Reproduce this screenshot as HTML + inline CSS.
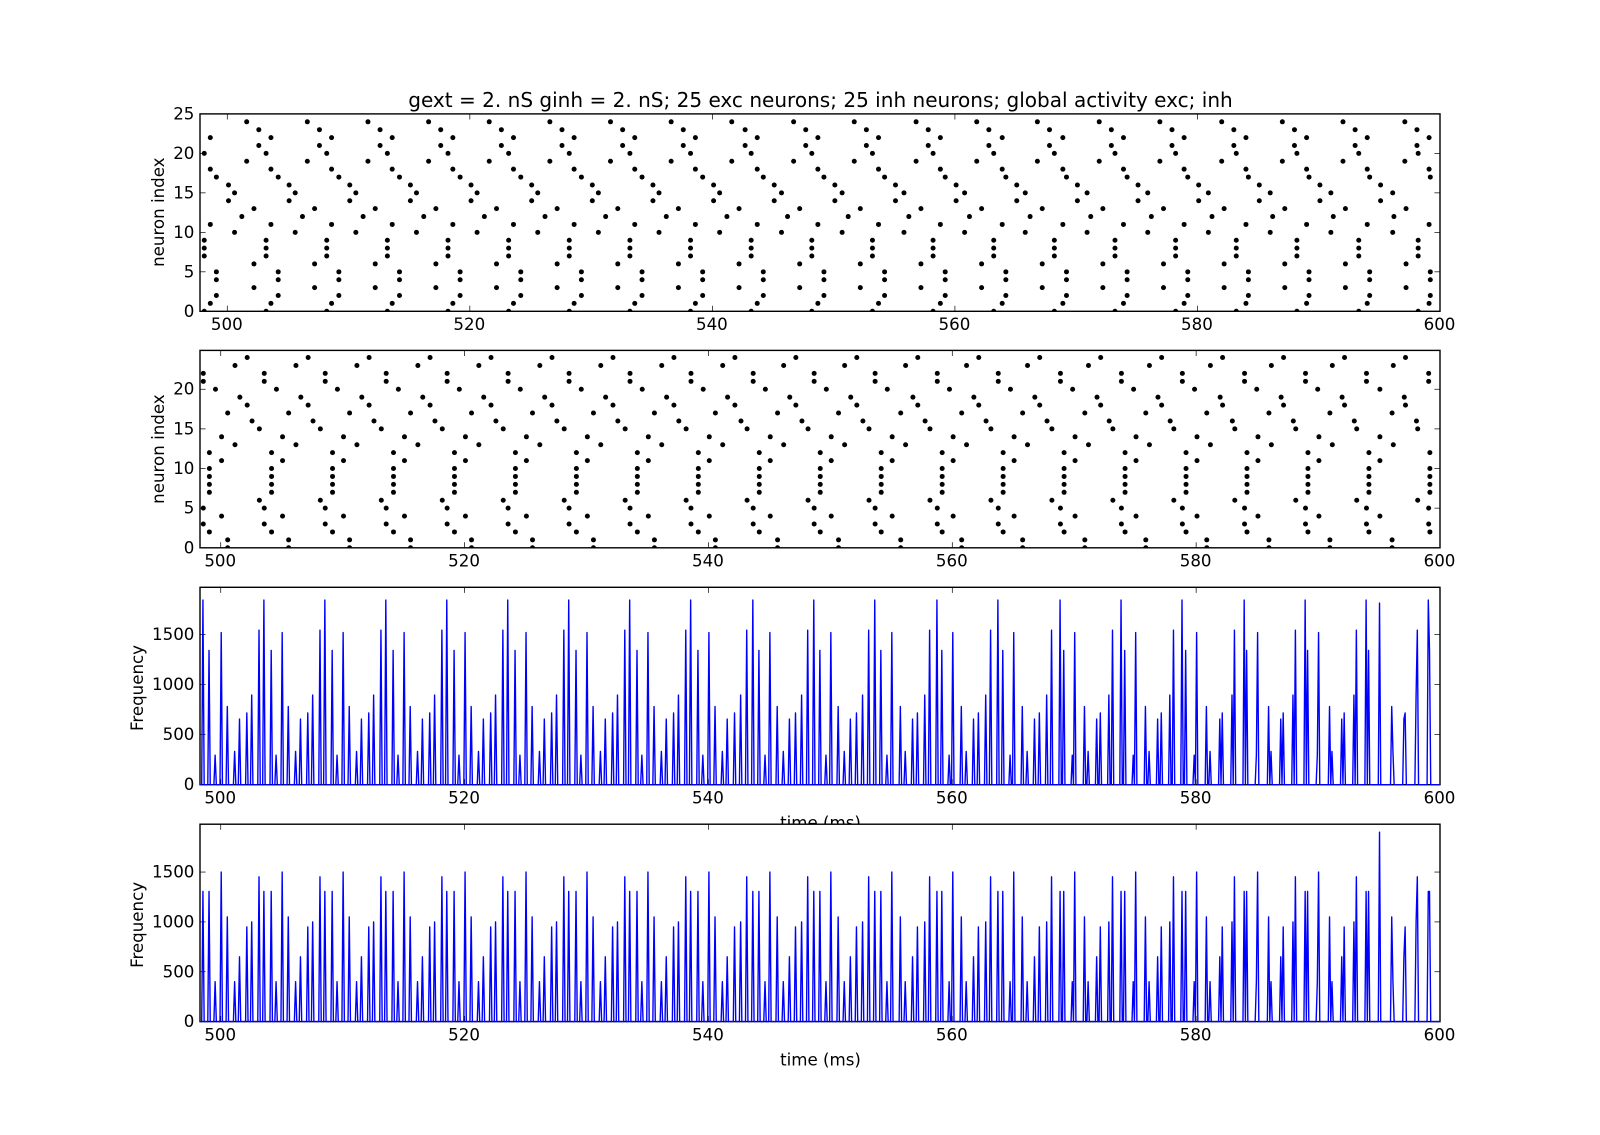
<!DOCTYPE html>
<html lang="en">
<head>
<meta charset="utf-8">
<title>Raster and frequency chart</title>
<style>
html,body{margin:0;padding:0;background:#fff;}
svg{display:block;}
text{font-family:"DejaVu Sans","Liberation Sans",sans-serif;fill:#000;}
</style>
</head>
<body>
<svg id="chart" xmlns="http://www.w3.org/2000/svg" width="1600" height="1135" viewBox="0 0 1600 1135">
  <rect x="0" y="0" width="1600" height="1135" fill="#fff"/>
  <defs>
    <clipPath id="clip-0"><rect x="200" y="113.9" width="1240" height="197.4"/></clipPath>
    <clipPath id="clip-1"><rect x="200" y="350.4" width="1240" height="197.4"/></clipPath>
    <clipPath id="clip-2"><rect x="200" y="587.3" width="1240" height="198.4"/></clipPath>
    <clipPath id="clip-3"><rect x="200" y="824.2" width="1240" height="198.4"/></clipPath>
  </defs>
  <text x="820.5" y="107" font-size="20.04" text-anchor="middle">gext = 2. nS ginh = 2. nS; 25 exc neurons; 25 inh neurons; global activity exc; inh</text>
  <g id="panel-0"></g>
  <g id="panel-1"></g>
  <g id="panel-2"></g>
  <text x="820.5" y="828.5" font-size="16.67" text-anchor="middle">time (ms)</text>
  <g id="panel-3"></g>
  <text x="820.5" y="1065.5" font-size="16.67" text-anchor="middle">time (ms)</text>
  <text transform="translate(164,212.2) rotate(-90)" font-size="16.67" text-anchor="middle">neuron index</text>
  <text transform="translate(164,449.1) rotate(-90)" font-size="16.67" text-anchor="middle">neuron index</text>
  <text transform="translate(143,688) rotate(-90)" font-size="16.67" text-anchor="middle">Frequency</text>
  <text transform="translate(143,924.9) rotate(-90)" font-size="16.67" text-anchor="middle">Frequency</text>
</svg>
<script>
const xTicks = [500, 520, 540, 560, 580, 600];
const rasterTicksExc = [0, 5, 10, 15, 20, 25];
const rasterTicksInh = [0, 5, 10, 15, 20];
const freqTicks = [0, 500, 1000, 1500];

/* Excitatory raster: neurons firing together, and the times of each volley (ms) */
const excNeurons = [
  [0, 7, 8, 9, 20], [1, 11, 18, 22], [2, 4, 5, 17], [14, 16], [10, 15],
  [12], [19, 24], [3, 6, 13], [21, 23]
];
const excTimes = [
  [498.1,503.2,508.2,513.2,518.2,523.2,528.2,533.2,538.2,543.2,548.2,553.2,558.2,563.2,568.2,573.2,578.2,583.2,588.2,593.3,598.2],
  [498.6,503.6,508.6,513.6,518.6,523.6,528.6,533.6,538.6,543.7,548.7,553.7,558.8,563.9,568.9,573.9,578.9,584.0,589.0,594.0,599.1],
  [499.1,504.2,509.2,514.2,519.2,524.2,529.2,534.2,539.2,544.2,549.2,554.2,559.2,564.2,569.2,574.2,579.2,584.2,589.2,594.2,599.2],
  [500.1,505.1,510.1,515.1,520.1,525.1,530.1,535.1,540.1,545.1,550.1,555.1,560.1,565.1,570.1,575.1,580.1,585.1,590.1,595.1],
  [500.6,505.6,510.6,515.6,520.6,525.6,530.6,535.6,540.6,545.7,550.7,555.8,560.8,565.8,570.9,575.9,580.9,586.0,591.0,596.1],
  [501.2,506.2,511.2,516.2,521.2,526.2,531.2,536.2,541.2,546.2,551.2,556.2,561.2,566.2,571.2,576.2,581.2,586.2,591.2,596.2],
  [501.6,506.6,511.6,516.6,521.6,526.6,531.6,536.6,541.6,546.7,551.7,556.8,561.8,566.8,571.9,576.9,582.0,587.0,592.0,597.1],
  [502.2,507.2,512.2,517.2,522.2,527.2,532.2,537.2,542.2,547.2,552.2,557.2,562.2,567.2,572.2,577.2,582.2,587.2,592.2,597.2],
  [502.6,507.6,512.6,517.6,522.6,527.6,532.6,537.6,542.7,547.7,552.7,557.8,562.8,567.8,572.9,577.9,583.0,588.0,593.0,598.1]
];

/* Inhibitory raster: neurons firing together, and the times of each volley (ms) */
const inhNeurons = [
  [3, 5, 21, 22], [2, 7, 8, 9, 10, 12], [20], [4, 11, 14], [0, 1, 17],
  [13, 23], [19], [18, 24], [16], [6, 15]
];
const inhTimes = [
  [498.5,503.5,508.5,513.5,518.5,523.5,528.5,533.5,538.5,543.6,548.6,553.6,558.7,563.7,568.8,573.8,578.8,583.9,588.9,593.9,599.0],
  [499.0,504.1,509.1,514.1,519.1,524.1,529.1,534.1,539.1,544.1,549.1,554.1,559.1,564.1,569.1,574.1,579.1,584.1,589.1,594.1,599.1],
  [499.5,504.5,509.5,514.5,519.5,524.5,529.5,534.5,539.5,544.6,549.6,554.6,559.7,564.7,569.8,574.8,579.8,584.9,589.9,595.0],
  [500.0,505.0,510.0,515.0,520.0,525.0,530.0,535.0,540.0,545.0,550.0,555.0,560.0,565.0,570.0,575.0,580.0,585.0,590.0,595.0],
  [500.5,505.5,510.5,515.5,520.5,525.5,530.5,535.5,540.5,545.6,550.6,555.7,560.7,565.7,570.8,575.8,580.8,585.9,590.9,596.0],
  [501.1,506.1,511.1,516.1,521.1,526.1,531.1,536.1,541.1,546.1,551.1,556.1,561.1,566.1,571.1,576.1,581.1,586.1,591.1,596.1],
  [501.5,506.5,511.5,516.5,521.5,526.5,531.5,536.5,541.5,546.6,551.6,556.7,561.7,566.7,571.8,576.8,581.9,586.9,591.9,597.0],
  [502.1,507.1,512.1,517.1,522.1,527.1,532.1,537.1,542.1,547.1,552.1,557.1,562.1,567.1,572.1,577.1,582.1,587.1,592.1,597.1],
  [502.5,507.5,512.5,517.5,522.5,527.5,532.5,537.5,542.6,547.6,552.6,557.7,562.7,567.7,572.8,577.8,582.9,587.9,592.9,598.0],
  [503.1,508.1,513.1,518.1,523.1,528.1,533.1,538.1,543.1,548.1,553.1,558.1,563.1,568.1,573.1,578.1,583.1,588.1,593.1,598.1]
];

/* Frequency reached by each volley (same order as inhTimes), Hz */
const excFreq = [1843, 1340, 295, 1518, 780, 332, 655, 716, 895, 1542];
const inhFreq = [1305, 1305, 400, 1500, 1050, 400, 650, 950, 1000, 1452];

const SVG_NS = 'http://www.w3.org/2000/svg';
const AX_LEFT = 200, AX_WIDTH = 1240, AX_HEIGHT = 197.4;
const DOT_SHIFT = 0.07;
const LINE_SHIFT = 0.04;

function make(tag, parent, attrs) {
  const el = document.createElementNS(SVG_NS, tag);
  for (const k in attrs) el.setAttribute(k, attrs[k]);
  parent.appendChild(el);
  return el;
}

function xAxis(xMin) {
  return t => AX_LEFT + (t - xMin) / (600 - xMin) * AX_WIDTH;
}
function yAxis(top, yMax) {
  return v => top + AX_HEIGHT - v / yMax * AX_HEIGHT;
}

function drawBackground(g, top) {
  const bg = make('rect', g, { x: AX_LEFT, y: top, width: AX_WIDTH, height: AX_HEIGHT, fill: '#fff' });
  
  
}

function drawFrame(g, top, x, y, yTicks) {
  const bottom = top + AX_HEIGHT, right = AX_LEFT + AX_WIDTH;
  xTicks.forEach(t => {
    const px = x(t);
    const t1 = make('line', g, { x1: px, x2: px, y1: bottom, y2: bottom - 5.6, stroke: '#000', 'stroke-width': 0.7 });
    
    
    const t2 = make('line', g, { x1: px, x2: px, y1: top, y2: top + 5.6, stroke: '#000', 'stroke-width': 0.7 });
    
    
    const lab = make('text', g, { x: px - 0.5, y: bottom + 18.9, 'font-size': 16.67, 'text-anchor': 'middle' });
    lab.textContent = String(t);
    
    
  });
  yTicks.forEach(v => {
    const py = y(v);
    const t1 = make('line', g, { x1: AX_LEFT, x2: AX_LEFT + 5.6, y1: py, y2: py, stroke: '#000', 'stroke-width': 0.7 });
    
    
    const t2 = make('line', g, { x1: right, x2: right - 5.6, y1: py, y2: py, stroke: '#000', 'stroke-width': 0.7 });
    
    
    const lab = make('text', g, { x: AX_LEFT - 5.6, y: py + 5.5, 'font-size': 16.67, 'text-anchor': 'end' });
    lab.textContent = String(v);
    
    
  });
  const frame = make('rect', g, { x: AX_LEFT, y: top, width: AX_WIDTH, height: AX_HEIGHT, fill: 'none', stroke: '#000', 'stroke-width': 1.4 });
  
  
}

function drawRaster(index, top, xMin, yMax, yTicks, neurons, times, shift) {
  const g = document.getElementById('panel-' + index);
  const x = xAxis(xMin), y = yAxis(top, yMax);
  drawBackground(g, top);
  const dots = make('g', g, { 'clip-path': 'url(#clip-' + index + ')', fill: '#000' });
  
  
  times.forEach((series, i) => {
    series.forEach(t => {
      neurons[i].forEach(n => {
        const dot = make('circle', dots, { cx: x(t + shift), cy: y(n), r: 2.5 });
        
        
      });
    });
  });
  drawFrame(g, top, x, y, yTicks);
}

function drawFrequency(index, top, xMin, yMax, heights, times) {
  const g = document.getElementById('panel-' + index);
  const x = xAxis(xMin), y = yAxis(top, yMax);
  drawBackground(g, top);
  drawFrame(g, top, x, y, freqTicks);
  const bins = {};
  times.forEach((series, i) => {
    series.forEach(t => {
      const k = Math.round(t * 10);
      bins[k] = (bins[k] || 0) + heights[i];
    });
  });
  const pts = [];
  for (let k = Math.floor(xMin * 10) - 1; k <= 6001; k++) {
    pts.push(x(k / 10 + LINE_SHIFT).toFixed(2) + ',' + y(bins[k] || 0).toFixed(2));
  }
  const line = make('polyline', g, {
    points: pts.join(' '), fill: 'none', stroke: '#0000ff', 'stroke-width': 1.39,
    'stroke-linejoin': 'round', 'clip-path': 'url(#clip-' + index + ')'
  });
  
  
}

drawRaster(0, 113.9, 497.75, 25, rasterTicksExc, excNeurons, excTimes, 0);
drawRaster(1, 350.4, 498.3, 24.9, rasterTicksInh, inhNeurons, inhTimes, DOT_SHIFT);
drawFrequency(2, 587.3, 498.3, 1970, excFreq, inhTimes);
drawFrequency(3, 824.2, 498.3, 1980, inhFreq, inhTimes);
</script>
</body>
</html>
